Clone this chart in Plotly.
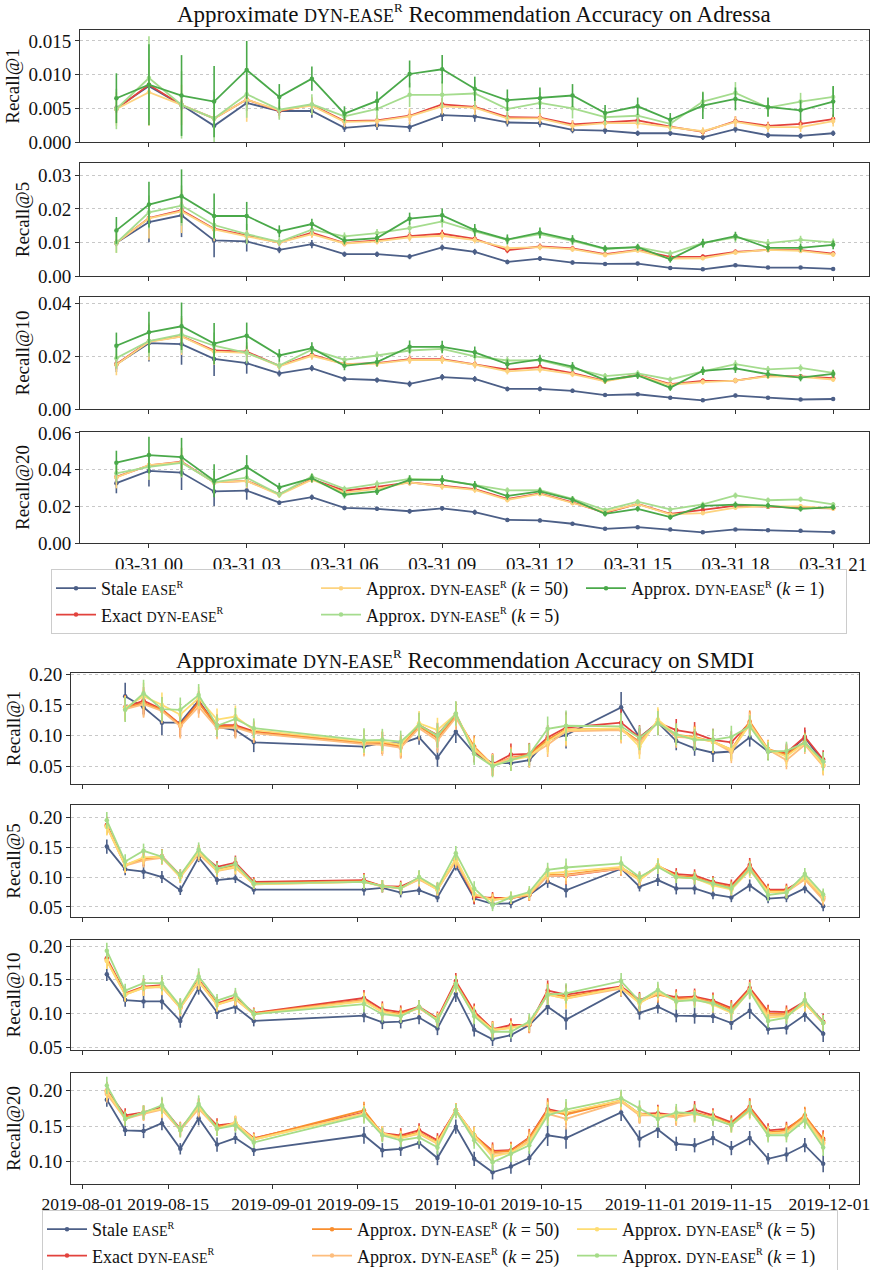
import plotly.graph_objects as go

FONT = "Liberation Serif, Times New Roman, DejaVu Serif, serif"
W, H = 870, 1270

# ---------------- Adressa data ----------------
ADR_TIMES = ["2017-03-30 23:00", "2017-03-31 00:00", "2017-03-31 01:00", "2017-03-31 02:00",
             "2017-03-31 03:00", "2017-03-31 04:00", "2017-03-31 05:00", "2017-03-31 06:00",
             "2017-03-31 07:00", "2017-03-31 08:00", "2017-03-31 09:00", "2017-03-31 10:00",
             "2017-03-31 11:00", "2017-03-31 12:00", "2017-03-31 13:00", "2017-03-31 14:00",
             "2017-03-31 15:00", "2017-03-31 16:00", "2017-03-31 17:00", "2017-03-31 18:00",
             "2017-03-31 19:00", "2017-03-31 20:00", "2017-03-31 21:00"]
ADR_TICKS = ["2017-03-31 00:00", "2017-03-31 03:00", "2017-03-31 06:00", "2017-03-31 09:00",
             "2017-03-31 12:00", "2017-03-31 15:00", "2017-03-31 18:00", "2017-03-31 21:00"]

adr_r1_stale = [.0050,.0083,.0055,.0024,.0058,.0046,.0046,.0021,.0025,.0022,.0040,.0038,.0029,.0028,.0018,.0017,.0013,.0013,.0007,.0019,.0010,.0009,.0013]
adr_r1_exact = [.0049,.0085,.0055,.0035,.0063,.0046,.0055,.0031,.0032,.0039,.0056,.0052,.0037,.0036,.0026,.0029,.0032,.0023,.0015,.0031,.0024,.0027,.0034]
adr_r1_k50   = [.0049,.0074,.0055,.0035,.0063,.0047,.0054,.0030,.0031,.0038,.0053,.0051,.0035,.0035,.0024,.0028,.0028,.0022,.0016,.0030,.0022,.0022,.0031]
adr_r1_k5    = [.0049,.0095,.0055,.0035,.0071,.0048,.0056,.0038,.0049,.0070,.0070,.0072,.0049,.0058,.0050,.0037,.0039,.0027,.0060,.0073,.0051,.0060,.0067]
adr_r1_k1    = [.0065,.0085,.0069,.0060,.0107,.0067,.0094,.0042,.0061,.0101,.0108,.0079,.0062,.0065,.0069,.0043,.0053,.0033,.0054,.0064,.0052,.0047,.0060]
adr_r1_stale_err = [.0005,.0008,.0006,.0005,.0012,.0007,.0010,.0006,.0007,.0007,.0009,.0008,.0006,.0006,.0005,.0005,.0004,.0004,.0004,.0005,.0004,.0004,.0004]
adr_r1_exact_err = [.0006,.0009,.0008,.0006,.0010,.0007,.0010,.0006,.0007,.0008,.0009,.0008,.0007,.0007,.0006,.0006,.0006,.0005,.0005,.0007,.0006,.0006,.0007]
adr_r1_k50_err   = [.0025,.0050,.0030,.0015,.0033,.0012,.0013,.0008,.0009,.0012,.0012,.0011,.0008,.0008,.0008,.0008,.0008,.0006,.0006,.0008,.0007,.0007,.0008]
adr_r1_k5_err    = [.0030,.0062,.0050,.0040,.0035,.0015,.0015,.0010,.0015,.0018,.0020,.0020,.0015,.0016,.0015,.0012,.0012,.0010,.0015,.0016,.0014,.0013,.0015]
adr_r1_k1_err    = [.0037,.0060,.0060,.0053,.0043,.0019,.0018,.0011,.0014,.0020,.0021,.0018,.0016,.0016,.0017,.0012,.0013,.0010,.0020,.0017,.0014,.0015,.0023]

adr_r5_stale = [.0099,.0161,.0181,.0106,.0103,.0078,.0095,.0065,.0065,.0058,.0085,.0072,.0042,.0052,.0040,.0036,.0037,.0024,.0020,.0032,.0025,.0025,.0021]
adr_r5_exact = [.0099,.0173,.0196,.0141,.0121,.0100,.0129,.0098,.0106,.0119,.0126,.0111,.0077,.0088,.0082,.0065,.0078,.0057,.0058,.0072,.0078,.0077,.0067]
adr_r5_k50   = [.0099,.0172,.0193,.0139,.0118,.0100,.0125,.0097,.0103,.0115,.0120,.0107,.0083,.0086,.0080,.0063,.0076,.0052,.0053,.0070,.0078,.0075,.0064]
adr_r5_k5    = [.0099,.0190,.0210,.0152,.0125,.0102,.0138,.0118,.0128,.0143,.0163,.0133,.0108,.0125,.0105,.0080,.0086,.0067,.0098,.0115,.0098,.0108,.0100]
adr_r5_k1    = [.0136,.0213,.0238,.0179,.0179,.0133,.0155,.0106,.0113,.0171,.0181,.0137,.0109,.0129,.0108,.0082,.0086,.0050,.0098,.0119,.0084,.0084,.0093]
adr_r5_stale_err = [.0010,.0060,.0065,.0050,.0030,.0010,.0012,.0008,.0008,.0008,.0009,.0009,.0007,.0007,.0006,.0005,.0005,.0004,.0004,.0005,.0004,.0004,.0004]
adr_r5_exact_err = [.0010,.0020,.0025,.0020,.0015,.0010,.0012,.0009,.0009,.0012,.0012,.0010,.0009,.0009,.0008,.0007,.0007,.0006,.0006,.0007,.0007,.0007,.0007]
adr_r5_k50_err   = [.0030,.0060,.0065,.0035,.0020,.0010,.0012,.0009,.0009,.0012,.0012,.0010,.0009,.0009,.0008,.0007,.0007,.0006,.0006,.0007,.0007,.0007,.0007]
adr_r5_k5_err    = [.0030,.0050,.0060,.0040,.0030,.0012,.0015,.0012,.0012,.0015,.0018,.0015,.0012,.0014,.0012,.0010,.0010,.0010,.0012,.0014,.0012,.0012,.0012]
adr_r5_k1_err    = [.0040,.0068,.0080,.0067,.0042,.0018,.0016,.0012,.0012,.0018,.0020,.0018,.0015,.0016,.0014,.0010,.0010,.0010,.0013,.0013,.0012,.0012,.0013]

adr_r10_stale = [.0170,.0250,.0246,.0190,.0174,.0135,.0155,.0114,.0110,.0095,.0121,.0114,.0076,.0076,.0069,.0053,.0056,.0043,.0033,.0051,.0043,.0036,.0038]
adr_r10_exact = [.0170,.0257,.0276,.0222,.0218,.0164,.0206,.0170,.0174,.0189,.0189,.0170,.0149,.0159,.0136,.0107,.0130,.0094,.0107,.0108,.0126,.0124,.0117]
adr_r10_k50   = [.0168,.0255,.0275,.0218,.0213,.0162,.0202,.0170,.0172,.0186,.0186,.0168,.0143,.0150,.0132,.0105,.0128,.0092,.0102,.0108,.0124,.0122,.0112]
adr_r10_k5    = [.0193,.0258,.0283,.0240,.0213,.0165,.0225,.0187,.0203,.0222,.0228,.0200,.0184,.0185,.0155,.0125,.0135,.0112,.0143,.0170,.0150,.0156,.0137]
adr_r10_k1    = [.0240,.0291,.0314,.0248,.0278,.0203,.0231,.0164,.0178,.0236,.0236,.0215,.0170,.0188,.0161,.0110,.0127,.0081,.0145,.0154,.0132,.0119,.0133]
adr_r10_stale_err = [.0030,.0070,.0078,.0065,.0040,.0012,.0012,.0010,.0010,.0012,.0012,.0011,.0009,.0009,.0008,.0007,.0007,.0006,.0006,.0007,.0006,.0006,.0006]
adr_r10_exact_err = [.0020,.0030,.0030,.0025,.0020,.0012,.0014,.0012,.0012,.0014,.0014,.0013,.0012,.0012,.0011,.0010,.0010,.0009,.0009,.0010,.0009,.0009,.0010]
adr_r10_k50_err   = [.0040,.0070,.0070,.0050,.0030,.0014,.0015,.0013,.0013,.0015,.0015,.0014,.0012,.0012,.0011,.0010,.0010,.0009,.0009,.0010,.0009,.0009,.0010]
adr_r10_k5_err    = [.0040,.0060,.0070,.0050,.0040,.0015,.0016,.0014,.0015,.0016,.0017,.0016,.0014,.0015,.0013,.0012,.0012,.0011,.0014,.0015,.0013,.0013,.0013]
adr_r10_k1_err    = [.0050,.0078,.0090,.0078,.0050,.0024,.0022,.0017,.0017,.0024,.0023,.0022,.0018,.0018,.0017,.0013,.0013,.0012,.0016,.0017,.0015,.0014,.0015]

adr_r20_stale = [.0326,.0393,.0384,.0281,.0286,.0220,.0250,.0191,.0186,.0173,.0189,.0168,.0126,.0123,.0105,.0077,.0086,.0074,.0058,.0074,.0070,.0067,.0059]
adr_r20_exact = [.0360,.0423,.0443,.0330,.0339,.0267,.0348,.0285,.0306,.0330,.0312,.0294,.0240,.0270,.0222,.0164,.0213,.0159,.0180,.0204,.0198,.0191,.0189]
adr_r20_k50   = [.0358,.0425,.0440,.0330,.0338,.0262,.0345,.0275,.0295,.0330,.0308,.0290,.0235,.0268,.0218,.0170,.0212,.0156,.0163,.0193,.0200,.0200,.0188]
adr_r20_k5    = [.0380,.0415,.0437,.0332,.0356,.0265,.0363,.0295,.0322,.0350,.0345,.0315,.0287,.0288,.0240,.0180,.0225,.0183,.0210,.0259,.0233,.0238,.0210]
adr_r20_k1    = [.0438,.0479,.0468,.0339,.0414,.0303,.0353,.0263,.0281,.0344,.0344,.0315,.0256,.0281,.0236,.0159,.0186,.0141,.0202,.0209,.0204,.0186,.0195]
adr_r20_stale_err = [.0055,.0085,.0095,.0080,.0050,.0012,.0015,.0012,.0012,.0013,.0013,.0014,.0011,.0010,.0010,.0008,.0008,.0008,.0008,.0008,.0008,.0008,.0008]
adr_r20_exact_err = [.0030,.0035,.0040,.0030,.0030,.0015,.0016,.0014,.0014,.0016,.0016,.0015,.0013,.0013,.0012,.0011,.0011,.0010,.0011,.0012,.0011,.0011,.0011]
adr_r20_k50_err   = [.0060,.0080,.0080,.0060,.0040,.0016,.0017,.0015,.0015,.0018,.0018,.0017,.0014,.0014,.0013,.0012,.0012,.0011,.0012,.0013,.0012,.0012,.0012]
adr_r20_k5_err    = [.0050,.0070,.0080,.0060,.0050,.0018,.0018,.0017,.0018,.0019,.0019,.0018,.0016,.0016,.0015,.0014,.0014,.0013,.0015,.0016,.0015,.0015,.0014]
adr_r20_k1_err    = [.0065,.0100,.0105,.0090,.0065,.0025,.0023,.0020,.0020,.0025,.0025,.0023,.0020,.0020,.0019,.0015,.0015,.0014,.0016,.0017,.0016,.0015,.0015]

# ---------------- SMDI data ----------------
SMDI_DATES = ["2019-08-05","2019-08-08","2019-08-11","2019-08-14","2019-08-17","2019-08-20","2019-08-23",
              "2019-08-26","2019-08-29","2019-09-16","2019-09-19","2019-09-22","2019-09-25","2019-09-28",
              "2019-10-01","2019-10-04","2019-10-07","2019-10-10","2019-10-13","2019-10-16","2019-10-19",
              "2019-10-28","2019-10-31","2019-11-03","2019-11-06","2019-11-09","2019-11-12","2019-11-15",
              "2019-11-18","2019-11-21","2019-11-24","2019-11-27","2019-11-30"]
SMDI_TICKS = ["2019-08-01","2019-08-15","2019-09-01","2019-09-15","2019-10-01","2019-10-15",
              "2019-11-01","2019-11-15","2019-12-01"]

smdi_r1_stale = [None,.164,.146,.121,.121,.157,.114,.109,.089,.082,.088,.087,.097,.064,.106,.071,.055,.055,.060,.093,.101,.146,.097,.121,.091,.079,.072,.074,.097,.074,.070,.097,.057]
smdi_r1_exact = [None,.146,.157,.143,.118,.155,.117,.117,.107,.089,.088,.082,.117,.101,.135,.074,.053,.069,.070,.097,.113,.121,.097,.121,.109,.104,.093,.089,.121,.075,.072,.098,.061]
smdi_r1_k50   = [None,.145,.153,.142,.117,.153,.115,.115,.105,.088,.088,.082,.115,.096,.131,.082,.052,.064,.069,.093,.110,.111,.090,.123,.101,.098,.090,.077,.123,.078,.069,.090,.052]
smdi_r1_k25   = [None,.143,.151,.140,.115,.147,.112,.113,.104,.086,.085,.080,.112,.092,.129,.079,.052,.063,.066,.085,.107,.109,.088,.122,.098,.096,.090,.073,.120,.077,.060,.085,.050]
smdi_r1_k5    = [None,.145,.164,.150,.134,.161,.126,.131,.109,.090,.090,.085,.120,.109,.135,.077,.052,.060,.066,.090,.109,.112,.082,.126,.101,.096,.090,.077,.117,.077,.066,.088,.052]
smdi_r1_k1    = [None,.142,.169,.143,.142,.166,.116,.127,.112,.092,.093,.090,.117,.100,.136,.070,.050,.060,.069,.111,.116,.115,.096,.120,.102,.093,.093,.098,.115,.074,.075,.088,.058]
smdi_r1_stale_err = [0,.022,.012,.020,.012,.010,.010,.012,.016,.010,.010,.010,.012,.015,.018,.012,.012,.012,.012,.012,.022,.025,.015,.012,.015,.012,.015,.012,.015,.012,.010,.012,.010]
smdi_r1_dyn_err   = [0,.020,.022,.020,.020,.018,.018,.018,.016,.020,.018,.018,.020,.020,.020,.018,.018,.018,.018,.020,.025,.022,.020,.020,.018,.018,.018,.018,.018,.015,.015,.015,.015]

smdi_r5_stale = [.151,.113,.109,.100,.078,.133,.095,.098,.079,.079,.082,.074,.078,.066,.119,.064,.055,.056,.070,.092,.078,.114,.084,.095,.081,.081,.071,.066,.086,.064,.066,.081,.051]
smdi_r5_exact = [.187,.120,.131,.135,.103,.142,.117,.124,.092,.095,.085,.084,.098,.081,.128,.067,.065,.065,.070,.103,.102,.114,.098,.118,.105,.103,.092,.086,.120,.079,.079,.098,.067]
smdi_r5_k50   = [.186,.120,.130,.134,.101,.141,.113,.120,.090,.093,.085,.082,.097,.080,.128,.070,.063,.065,.070,.104,.104,.116,.097,.119,.102,.100,.090,.083,.117,.077,.077,.097,.064]
smdi_r5_k25   = [.184,.119,.128,.132,.100,.139,.110,.116,.088,.092,.084,.081,.096,.079,.127,.071,.062,.065,.071,.102,.103,.114,.095,.118,.100,.098,.088,.081,.115,.075,.075,.096,.062]
smdi_r5_k5    = [.184,.120,.133,.134,.100,.142,.111,.117,.088,.092,.085,.081,.098,.079,.131,.072,.061,.066,.072,.106,.109,.117,.095,.120,.100,.098,.086,.079,.111,.075,.075,.100,.067]
smdi_r5_k1    = [.195,.126,.144,.134,.103,.146,.114,.122,.089,.092,.085,.081,.100,.082,.140,.081,.053,.066,.075,.112,.116,.123,.100,.117,.100,.098,.089,.081,.114,.070,.074,.105,.071]
smdi_r5_stale_err = [.012,.010,.012,.010,.008,.008,.008,.008,.008,.010,.008,.008,.008,.008,.008,.010,.008,.008,.008,.010,.012,.010,.008,.010,.010,.010,.008,.008,.010,.008,.008,.008,.008]
smdi_r5_dyn_err   = [.014,.012,.012,.012,.010,.012,.010,.012,.008,.012,.010,.010,.012,.010,.012,.012,.010,.010,.010,.012,.015,.012,.010,.012,.010,.010,.010,.010,.012,.010,.010,.010,.010]

smdi_r10_stale = [.158,.120,.118,.118,.089,.138,.102,.110,.089,.097,.087,.088,.094,.078,.129,.076,.062,.068,.083,.110,.091,.135,.101,.110,.097,.097,.096,.086,.104,.077,.079,.098,.070]
smdi_r10_exact = [.182,.130,.140,.142,.110,.150,.115,.124,.101,.123,.106,.102,.110,.093,.148,.103,.077,.083,.083,.134,.128,.140,.120,.130,.124,.125,.119,.108,.138,.103,.102,.118,.088]
smdi_r10_k50   = [.180,.129,.139,.140,.109,.148,.114,.122,.100,.120,.103,.100,.109,.091,.145,.100,.076,.080,.083,.130,.125,.138,.118,.128,.122,.123,.117,.106,.135,.100,.099,.116,.086]
smdi_r10_k25   = [.178,.128,.138,.139,.108,.147,.113,.121,.099,.119,.102,.098,.108,.090,.143,.099,.075,.079,.084,.128,.122,.137,.116,.130,.120,.122,.115,.103,.134,.097,.097,.115,.086]
smdi_r10_k5    = [.178,.128,.138,.140,.109,.148,.113,.122,.099,.118,.103,.097,.109,.091,.143,.098,.076,.078,.086,.128,.122,.139,.115,.132,.118,.122,.113,.101,.134,.094,.096,.115,.086]
smdi_r10_k1    = [.193,.134,.145,.145,.111,.155,.119,.128,.099,.114,.099,.096,.110,.089,.144,.096,.073,.073,.088,.128,.130,.148,.118,.135,.118,.120,.115,.103,.133,.089,.094,.120,.086]
smdi_r10_stale_err = [.010,.010,.010,.012,.010,.010,.010,.010,.008,.010,.010,.010,.010,.010,.012,.010,.010,.010,.010,.012,.015,.010,.010,.010,.010,.012,.010,.010,.012,.008,.010,.010,.012]
smdi_r10_dyn_err   = [.012,.010,.012,.012,.012,.012,.010,.010,.008,.012,.012,.010,.010,.010,.012,.012,.012,.010,.012,.015,.015,.012,.012,.012,.012,.012,.012,.012,.012,.010,.010,.012,.012]

smdi_r20_stale = [.187,.144,.143,.154,.118,.161,.124,.133,.116,.137,.116,.118,.126,.105,.149,.104,.085,.093,.105,.137,.133,.169,.132,.145,.125,.123,.133,.119,.133,.104,.110,.123,.097]
smdi_r20_exact = [.200,.165,.169,.177,.146,.177,.151,.154,.133,.169,.140,.137,.144,.130,.172,.137,.115,.116,.134,.174,.168,.186,.167,.168,.165,.173,.165,.155,.177,.144,.146,.163,.132]
smdi_r20_k50   = [.198,.162,.168,.174,.145,.176,.149,.153,.132,.172,.139,.135,.141,.127,.172,.137,.113,.115,.133,.172,.166,.185,.166,.166,.163,.169,.163,.153,.176,.141,.144,.165,.130]
smdi_r20_k25   = [.195,.160,.167,.173,.144,.174,.147,.153,.131,.168,.138,.133,.139,.125,.171,.134,.111,.112,.130,.167,.160,.184,.165,.165,.162,.167,.161,.151,.173,.139,.141,.162,.127]
smdi_r20_k5    = [.199,.160,.169,.174,.145,.177,.146,.155,.131,.167,.140,.133,.140,.126,.172,.137,.107,.113,.127,.169,.169,.186,.167,.165,.166,.167,.162,.151,.171,.140,.141,.160,.125]
smdi_r20_k1    = [.207,.160,.169,.179,.144,.181,.146,.151,.127,.165,.137,.130,.134,.120,.171,.130,.099,.111,.123,.165,.173,.189,.174,.160,.169,.168,.160,.151,.173,.137,.137,.158,.120]
smdi_r20_stale_err = [.010,.008,.010,.010,.008,.010,.010,.008,.008,.012,.010,.010,.008,.010,.010,.010,.010,.010,.010,.015,.015,.012,.012,.012,.010,.010,.010,.010,.010,.008,.010,.010,.012]
smdi_r20_dyn_err   = [.012,.010,.010,.012,.010,.012,.010,.010,.008,.012,.010,.010,.010,.010,.010,.012,.012,.012,.012,.015,.015,.012,.012,.012,.012,.012,.010,.010,.012,.010,.010,.012,.012]

# ---------------- styling ----------------
def smallcaps(word, size):
    return f'<span style="font-size:{size}px">{word}</span>'

def dyn(size):
    return smallcaps("DYN-EASE", size) + f'<sup><span style="font-size:{round(size*0.72)}px">R</span></sup>'

def ease(size):
    return smallcaps("EASE", size) + f'<sup><span style="font-size:{round(size*0.72)}px">R</span></sup>'

C_STALE = "#4c5f87"
C_EXACT = "#e2423d"
C_A50 = "#fdd37f"
C_A5 = "#a5dc8e"
C_A1 = "#4aa94a"
C_S50 = "#f98e2e"
C_S25 = "#fdbd7d"
C_S5 = "#fedd73"
C_S1 = "#a5dc88"

LEG = 18
SCL = 14
NAME_STALE = "Stale " + ease(SCL)
NAME_EXACT = "Exact " + dyn(SCL)
def approx(k):
    return f"Approx. {dyn(SCL)} (<i>k</i> = {k})"

fig = go.Figure()

def add(ax, x, y, err, name, color, legend, show, rank):
    sfx = "" if ax == 1 else str(ax)
    fig.add_trace(go.Scatter(
        x=x, y=y, mode="lines+markers", name=name,
        line=dict(color=color, width=1.8), marker=dict(size=4.5, color=color),
        error_y=dict(type="data", array=err, visible=True, color=color, thickness=1.6, width=0),
        xaxis="x" + sfx, yaxis="y" + sfx,
        legend=legend, showlegend=show, legendrank=rank, legendgroup=legend + str(rank),
        connectgaps=False))

adr_panels = [
    (adr_r1_stale, adr_r1_stale_err, adr_r1_exact, adr_r1_exact_err, adr_r1_k50, adr_r1_k50_err, adr_r1_k5, adr_r1_k5_err, adr_r1_k1, adr_r1_k1_err),
    (adr_r5_stale, adr_r5_stale_err, adr_r5_exact, adr_r5_exact_err, adr_r5_k50, adr_r5_k50_err, adr_r5_k5, adr_r5_k5_err, adr_r5_k1, adr_r5_k1_err),
    (adr_r10_stale, adr_r10_stale_err, adr_r10_exact, adr_r10_exact_err, adr_r10_k50, adr_r10_k50_err, adr_r10_k5, adr_r10_k5_err, adr_r10_k1, adr_r10_k1_err),
    (adr_r20_stale, adr_r20_stale_err, adr_r20_exact, adr_r20_exact_err, adr_r20_k50, adr_r20_k50_err, adr_r20_k5, adr_r20_k5_err, adr_r20_k1, adr_r20_k1_err),
]
for i, p in enumerate(adr_panels):
    ax = i + 1
    show = (i == 0)
    add(ax, ADR_TIMES, p[0], p[1], NAME_STALE, C_STALE, "legend", show, 1)
    add(ax, ADR_TIMES, p[2], p[3], NAME_EXACT, C_EXACT, "legend", show, 4)
    add(ax, ADR_TIMES, p[4], p[5], approx(50), C_A50, "legend", show, 2)
    add(ax, ADR_TIMES, p[6], p[7], approx(5), C_A5, "legend", show, 5)
    add(ax, ADR_TIMES, p[8], p[9], approx(1), C_A1, "legend", show, 3)

smdi_panels = [
    (smdi_r1_stale, smdi_r1_stale_err, smdi_r1_exact, smdi_r1_k50, smdi_r1_k25, smdi_r1_k5, smdi_r1_k1, smdi_r1_dyn_err),
    (smdi_r5_stale, smdi_r5_stale_err, smdi_r5_exact, smdi_r5_k50, smdi_r5_k25, smdi_r5_k5, smdi_r5_k1, smdi_r5_dyn_err),
    (smdi_r10_stale, smdi_r10_stale_err, smdi_r10_exact, smdi_r10_k50, smdi_r10_k25, smdi_r10_k5, smdi_r10_k1, smdi_r10_dyn_err),
    (smdi_r20_stale, smdi_r20_stale_err, smdi_r20_exact, smdi_r20_k50, smdi_r20_k25, smdi_r20_k5, smdi_r20_k1, smdi_r20_dyn_err),
]
for i, p in enumerate(smdi_panels):
    ax = i + 5
    show = (i == 0)
    add(ax, SMDI_DATES, p[0], p[1], NAME_STALE, C_STALE, "legend2", show, 1)
    add(ax, SMDI_DATES, p[2], p[7], NAME_EXACT, C_EXACT, "legend2", show, 4)
    add(ax, SMDI_DATES, p[3], p[7], approx(50), C_S50, "legend2", show, 2)
    add(ax, SMDI_DATES, p[4], p[7], approx(25), C_S25, "legend2", show, 5)
    add(ax, SMDI_DATES, p[5], p[7], approx(5), C_S5, "legend2", show, 3)
    add(ax, SMDI_DATES, p[6], p[7], approx(1), C_S1, "legend2", show, 6)

def ydom(top, bot):
    return [1 - bot / H, 1 - top / H]

TICK = 19
AX_COMMON = dict(showline=True, linecolor="#333333", linewidth=1, mirror=True,
                 ticks="outside", ticklen=4, tickcolor="#333333", zeroline=False,
                 automargin=False,
                 tickfont=dict(family=FONT, size=TICK, color="#111111"))

layout = dict(
    width=W, height=H, margin=dict(l=0, r=0, t=0, b=0, autoexpand=False),
    paper_bgcolor="white", plot_bgcolor="white",
    font=dict(family=FONT, size=16, color="#111111"),
)

adr_x = [80 / W, 869 / W]
smdi_x = [71 / W, 859 / W]
adr_rows = [(30, 142), (163, 276), (297, 409), (432, 543)]
smdi_rows = [(673, 784), (805, 917), (940, 1050), (1073, 1184)]
adr_yr = [([0, 0.01663], 0.005, ".3f", "Recall@1"), ([0, 0.0337], 0.01, ".2f", "Recall@5"),
          ([0, 0.0425], 0.02, ".2f", "Recall@10"), ([0, 0.0605], 0.02, ".2f", "Recall@20")]
smdi_yr = [([0.021, 0.202], 0.05, ".2f", "Recall@1"), ([0.0332, 0.2206], 0.05, ".2f", "Recall@5"),
           ([0.046, 0.2089], 0.05, ".2f", "Recall@10"), ([0.0686, 0.2244], 0.05, ".2f", "Recall@20")]

for i in range(4):
    ax = i + 1
    sfx = "" if ax == 1 else str(ax)
    layout["xaxis" + sfx] = dict(AX_COMMON, domain=adr_x, anchor="y" + sfx,
                                 type="date", range=["2017-03-30 21:53", "2017-03-31 22:06"],
                                 tickvals=ADR_TICKS, tickformat="%m-%d %H", showgrid=False,
                                 tickangle=0, ticklabeloverflow="allow",
                                 showticklabels=(i == 3), matches=None if ax == 1 else "x")
    r, dt, fmt, title = adr_yr[i]
    layout["yaxis" + sfx] = dict(AX_COMMON, domain=ydom(*adr_rows[i]), anchor="x" + sfx,
                                 range=r, dtick=dt, tick0=0, tickformat=fmt, showgrid=True,
                                 gridcolor="#c8c8c8", griddash="dot", gridwidth=1,
                                 title=dict(text=title, font=dict(family=FONT, size=19), standoff=3))
for i in range(4):
    ax = i + 5
    sfx = str(ax)
    xcfg = dict(AX_COMMON, domain=smdi_x, anchor="y" + sfx,
                type="date", range=["2019-07-30 03:36", "2019-12-05 20:24"],
                tickvals=SMDI_TICKS, tickformat="%Y-%m-%d", showgrid=False,
                tickangle=0, ticklabeloverflow="allow",
                showticklabels=(i == 3), matches=None if ax == 5 else "x5")
    xcfg["tickfont"] = dict(family=FONT, size=17.5, color="#111111")
    layout["xaxis" + sfx] = xcfg
    r, dt, fmt, title = smdi_yr[i]
    layout["yaxis" + sfx] = dict(AX_COMMON, domain=ydom(*smdi_rows[i]), anchor="x" + sfx,
                                 range=r, dtick=dt, tick0=0, tickformat=fmt, showgrid=True,
                                 gridcolor="#c8c8c8", griddash="dot", gridwidth=1,
                                 title=dict(text=title, font=dict(family=FONT, size=19), standoff=3))

layout["legend"] = dict(orientation="h", x=51 / W, y=1 - 569 / H, xanchor="left", yanchor="top",
                        bordercolor="#cccccc", borderwidth=1, bgcolor="white",
                        font=dict(family=FONT, size=LEG), entrywidth=210, tracegroupgap=0,
                        itemwidth=40)
layout["legend2"] = dict(orientation="h", x=42 / W, y=1 - 1210 / H, xanchor="left", yanchor="top",
                         bordercolor="#cccccc", borderwidth=1, bgcolor="white",
                         font=dict(family=FONT, size=LEG), entrywidth=210, tracegroupgap=0,
                         itemwidth=40)

layout["annotations"] = [
    dict(text=f"Approximate {dyn(18)} Recommendation Accuracy on Adressa", x=(80 + 869) / 2 / W,
         y=1 - 14 / H, xref="paper", yref="paper", xanchor="center", yanchor="middle",
         showarrow=False, font=dict(family=FONT, size=23)),
    dict(text=f"Approximate {dyn(18)} Recommendation Accuracy on SMDI", x=(71 + 859) / 2 / W,
         y=1 - 659 / H, xref="paper", yref="paper", xanchor="center", yanchor="middle",
         showarrow=False, font=dict(family=FONT, size=23)),
]

fig.update_layout(**layout)
fig.write_html("out.html")
